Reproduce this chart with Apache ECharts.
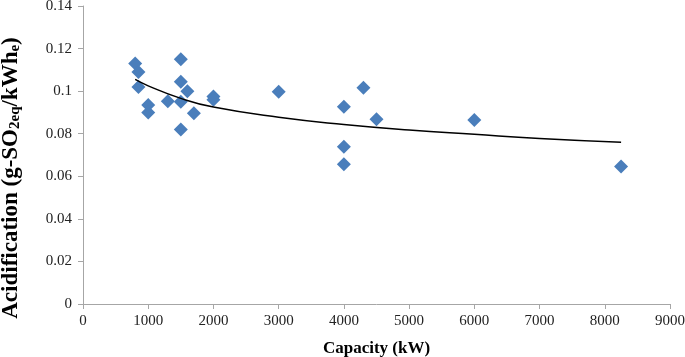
<!DOCTYPE html>
<html>
<head>
<meta charset="utf-8">
<script src="https://cdn.jsdelivr.net/npm/echarts@6/dist/echarts.min.js"></script>
<style>
  html, body { margin: 0; padding: 0; background: #fff; }
  #chart { width: 685px; height: 357px; }
</style>
</head>
<body>
<div id="chart"></div>
<script>
const elChart = document.getElementById('chart');

// Data
const capacity = [800, 850, 850, 1000, 1000, 1300, 1500, 1500, 1500, 1500, 1600, 1700, 2000, 2000, 3000, 4000, 4000, 4000, 4300, 4500, 6000, 8250];
const acidification = [0.113, 0.109, 0.102, 0.0935, 0.090, 0.0953, 0.115, 0.1044, 0.095, 0.082, 0.100, 0.0896, 0.0975, 0.096, 0.0997, 0.0927, 0.0739, 0.0657, 0.1016, 0.0868, 0.0864, 0.0646];

// Trendline
const trendX = [800, 1000, 1500, 2000, 3000, 4000, 5000, 6000, 7000, 8250];
const trendY = [0.1055, 0.1025, 0.0966, 0.0925, 0.0877, 0.0843, 0.0817, 0.0797, 0.0778, 0.0760];

const axisFont = 'Liberation Serif';
const axisGrey = '#a6a6a6';

const chart = echarts.init(elChart, null, { renderer: 'canvas' });

const option = {
    animation: false,
    grid: {
        left: 83,
        right: 15,
        top: 6,
        bottom: 53,
        containLabel: false,
        outerBoundsMode: 'none',
    },

    xAxis: {
        type: 'value',
        min: 0,
        max: 9000,
        interval: 1000,
        name: 'Capacity (kW)',
        nameLocation: 'middle',
        nameGap: 36,
        nameTextStyle: {
            fontFamily: axisFont,
            fontWeight: 'bold',
            fontSize: 17,
            color: '#000',
        },
        axisLine: { lineStyle: { color: axisGrey, width: 1 } },
        axisTick: { show: true, length: 5, lineStyle: { color: axisGrey } },
        axisLabel: {
            fontFamily: axisFont,
            fontSize: 15,
            color: '#222',
            margin: 10,
            formatter: (v) => String(v),
        },
        splitLine: { show: false },
    },

    yAxis: {
        type: 'value',
        min: 0,
        max: 0.14,
        interval: 0.02,
        name: 'Acidification (g-SO{sub|2eq}/kWh{sub|e})',
        nameLocation: 'middle',
        nameGap: 60,
        nameRotate: 90,
        nameTextStyle: {
            fontFamily: axisFont,
            fontWeight: 'bold',
            fontSize: 23,
            color: '#000',
            padding: [0, 46, 0, 0],
            rich: {
                sub: {
                    fontFamily: axisFont,
                    fontWeight: 'bold',
                    fontSize: 15,
                    color: '#000',
                    verticalAlign: 'bottom',
                    padding: [8, 0, 0, 0],
                },
            },
        },
        axisLine: { show: true, lineStyle: { color: axisGrey, width: 1 } },
        axisTick: { show: true, length: 5, lineStyle: { color: axisGrey } },
        axisLabel: {
            fontFamily: axisFont,
            fontSize: 15,
            color: '#222',
            margin: 11,
        },
        splitLine: { show: false },
    },

    series: [
        {
            name: 'Acidification',
            type: 'scatter',
            symbol: 'diamond',
            symbolSize: 14,
            itemStyle: { color: '#4a7ebb', opacity: 1 },
            data: capacity.map((c, i) => [c, acidification[i]]),
            z: 3,
        },
        {
            name: 'Trend',
            type: 'line',
            smooth: true,
            showSymbol: false,
            symbol: 'none',
            lineStyle: { color: '#000', width: 1.5 },
            data: trendX.map((c, i) => [c, trendY[i]]),
            z: 4,
        },
    ],
};

chart.setOption(option);
</script>
</body>
</html>
